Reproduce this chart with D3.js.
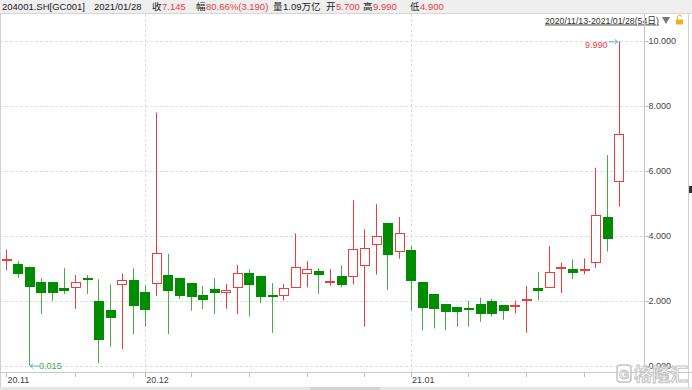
<!DOCTYPE html>
<html>
<head>
<meta charset="utf-8">
<script src="https://cdn.jsdelivr.net/npm/d3@7/dist/d3.min.js"></script>
<style>
  body { margin: 0; background: #fff; }
  svg { display: block; font-family: "Liberation Sans", "Noto Sans CJK SC", sans-serif; }
</style>
</head>
<body>
<svg width="692" height="390"></svg>
<script>
const dates = [
  "2020-11-13", "2020-11-16", "2020-11-17", "2020-11-18", "2020-11-19", "2020-11-20",
  "2020-11-23", "2020-11-24", "2020-11-25", "2020-11-26", "2020-11-27",
  "2020-11-30", "2020-12-01", "2020-12-02", "2020-12-03", "2020-12-04",
  "2020-12-07", "2020-12-08", "2020-12-09", "2020-12-10", "2020-12-11",
  "2020-12-14", "2020-12-15", "2020-12-16", "2020-12-17", "2020-12-18",
  "2020-12-21", "2020-12-22", "2020-12-23", "2020-12-24", "2020-12-25",
  "2020-12-28", "2020-12-29", "2020-12-30", "2020-12-31",
  "2021-01-04", "2021-01-05", "2021-01-06", "2021-01-07", "2021-01-08",
  "2021-01-11", "2021-01-12", "2021-01-13", "2021-01-14", "2021-01-15",
  "2021-01-18", "2021-01-19", "2021-01-20", "2021-01-21", "2021-01-22",
  "2021-01-25", "2021-01-26", "2021-01-27", "2021-01-28"
];
const open = [
  3.28, 3.14, 3.06, 2.59, 2.59, 2.40, 2.44, 2.70, 2.01, 1.71, 2.52,
  2.65, 2.27, 2.58, 2.80, 2.70, 2.54, 2.18, 2.38, 2.29, 2.42,
  2.86, 2.76, 2.17, 2.17, 2.45, 2.85, 2.93, 2.61, 2.78, 2.77,
  3.11, 3.74, 4.41, 3.53, 3.57, 2.59, 2.21, 1.91, 1.82,
  1.79, 1.91, 2.01, 1.88, 1.87, 2.04, 2.41, 2.44, 3.03, 2.98,
  2.97, 3.18, 4.59, 5.70
];
const close = [
  3.30, 2.87, 2.47, 2.29, 2.27, 2.33, 2.59, 2.69, 0.85, 1.50, 2.65,
  1.88, 1.76, 3.49, 2.34, 2.18, 2.13, 2.06, 2.29, 2.34, 2.86,
  2.52, 2.13, 2.15, 2.40, 3.06, 2.98, 2.84, 2.62, 2.52, 3.59,
  3.64, 3.99, 3.45, 4.08, 2.64, 1.83, 1.78, 1.70, 1.70,
  1.77, 1.62, 1.64, 1.74, 1.88, 2.06, 2.34, 2.90, 3.04, 2.90,
  2.98, 4.64, 3.955, 7.145
];
const high = [
  3.58, 3.24, 3.06, 2.70, 2.59, 3.01, 2.80, 2.80, 2.67, 2.51, 2.85,
  3.01, 2.49, 7.80, 3.45, 2.70, 2.54, 2.46, 2.70, 2.52, 3.11,
  2.98, 2.76, 2.55, 2.52, 4.08, 3.23, 3.01, 2.98, 3.10, 5.11,
  4.21, 4.98, 4.41, 4.59, 3.69, 2.59, 2.21, 1.91, 1.82,
  2.01, 2.10, 2.07, 1.88, 2.01, 2.46, 2.90, 3.69, 3.18, 3.28,
  3.31, 6.10, 6.49, 9.99
];
const low = [
  2.95, 2.71, 0.015, 1.60, 2.01, 2.21, 1.76, 2.21, 0.08, 0.59, 0.52,
  0.98, 1.21, 2.16, 0.98, 2.06, 1.70, 1.75, 1.60, 1.76, 1.60,
  1.52, 1.93, 1.02, 2.02, 2.45, 2.42, 2.22, 2.47, 2.42, 2.51,
  1.21, 2.81, 2.34, 3.30, 1.70, 1.10, 1.16, 1.10, 1.21,
  1.21, 1.36, 1.52, 1.42, 1.62, 1.02, 2.03, 2.44, 2.24, 2.67,
  2.82, 3.02, 3.52, 4.90
];
const yTicks = [0, 2, 4, 6, 8, 10];
const tickDates = ["2020-11-13", "2020-11-23", "2020-11-30", "2020-12-01", "2020-12-07",
  "2020-12-14", "2020-12-21", "2020-12-28", "2021-01-04", "2021-01-11", "2021-01-18", "2021-01-25"];
const monthLabels = [["2020-11-13", "20.11"], ["2020-12-01", "20.12"], ["2021-01-04", "21.01"]];

const red = "#ee3d3d";
const green = "#008c00";
const greenWick = "#44ad44";
const svg = d3.select("svg");

const x = d3.scalePoint().domain(dates).range([6, 618.6]);
const y = d3.scaleLinear().domain([0, 10]).range([366, 41]);
const bw = x.step() * 0.75;

// header
svg.append("rect").attr("x", 0).attr("y", 0).attr("width", 692).attr("height", 13)
  .style("fill", "#efefef");
svg.append("line").attr("x1", 0).attr("x2", 692).attr("y1", 13.5).attr("y2", 13.5)
  .style("stroke", "#d6d6d6");

const head = [
  [2, "204001.SH[GC001]", "#222"], [94, "2021/01/28", "#222"],
  [152, "收", "#222"], [162, "7.145", red],
  [196, "幅", "#222"], [206, "80.66%(3.190)", red],
  [273, "量", "#222"], [283, "1.09万亿", "#222"],
  [326, "开", "#222"], [336, "5.700", red],
  [363, "高", "#222"], [373, "9.990", red],
  [410, "低", "#222"], [420, "4.900", red]
];
head.forEach(h => {
  svg.append("text").attr("x", h[0]).attr("y", 10).text(h[1])
    .style("font-size", "9.5px").style("fill", h[2]);
});

svg.append("text").attr("x", 545).attr("y", 23.5).text("2020/11/13-2021/01/28(54日)")
  .attr("textLength", 114).attr("lengthAdjust", "spacingAndGlyphs")
  .style("font-size", "9px").style("fill", "#333").style("text-decoration", "underline");
svg.append("path").attr("d", "M662,17 L670,17 L666,24 Z").style("fill", "#777");
svg.append("rect").attr("x", 676).attr("y", 19.5).attr("width", 7).attr("height", 5).style("fill", "#f2b01e");
svg.append("path").attr("d", "M677.5,19.5 v-2.5 a2,2 0 0 1 4,0").style("fill", "none").style("stroke", "#f2b01e");

// frame
svg.append("line").attr("x1", 0.5).attr("x2", 0.5).attr("y1", 14).attr("y2", 387).style("stroke", "#d0d0d0");
svg.append("line").attr("x1", 688.5).attr("x2", 688.5).attr("y1", 14).attr("y2", 387).style("stroke", "#d0d0d0");
svg.append("rect").attr("x", 689).attr("y", 186).attr("width", 3).attr("height", 7).style("fill", "#333");

// grid
svg.append("g").selectAll("line").data(yTicks).join("line")
  .attr("x1", 0).attr("x2", 644).attr("y1", d => Math.round(y(d)) + 0.5).attr("y2", d => Math.round(y(d)) + 0.5)
  .style("stroke", "#dcdcdc").style("stroke-dasharray", "3,2");
svg.append("g").selectAll("line").data(monthLabels.slice(1)).join("line")
  .attr("x1", d => Math.round(x(d[0])) + 0.5).attr("x2", d => Math.round(x(d[0])) + 0.5)
  .attr("y1", 14).attr("y2", 372)
  .style("stroke", "#dcdcdc").style("stroke-dasharray", "3,2");

// axes
const yAxis = svg.append("g").attr("transform", "translate(644.5,0)")
  .call(d3.axisRight(y).tickValues(yTicks).tickSize(4).tickPadding(0).tickFormat(d3.format(".3f")));
yAxis.select(".domain").attr("d", "M0,14V372").style("stroke", "#c8c8c8");
yAxis.selectAll(".tick line").style("stroke", "#bbb");
yAxis.selectAll("text").style("font-size", "9px").style("fill", "#444")
  .style("font-family", "Liberation Sans, sans-serif");

svg.append("line").attr("x1", 0).attr("x2", 692).attr("y1", 372.5).attr("y2", 372.5).style("stroke", "#c8c8c8");
svg.append("g").selectAll("line").data(tickDates).join("line")
  .attr("x1", d => Math.round(x(d)) + 0.5).attr("x2", d => Math.round(x(d)) + 0.5)
  .attr("y1", 373).attr("y2", 377).style("stroke", "#bbb");
svg.append("g").selectAll("text").data(monthLabels).join("text")
  .attr("x", d => x(d[0]) + 1.5).attr("y", 383).text(d => d[1])
  .style("font-size", "9px").style("fill", "#444");

// scrollbar
svg.append("rect").attr("x", 0).attr("y", 387).attr("width", 692).attr("height", 3).style("fill", "#e6e6e6");
svg.append("rect").attr("x", 310).attr("y", 387).attr("width", 70).attr("height", 3).style("fill", "#d2d2d2");

// candles
const idx = d3.range(dates.length);
const g = svg.append("g");
g.selectAll("line.wick").data(idx).join("line").attr("class", "wick")
  .attr("x1", i => Math.round(x(dates[i])) + 0.5).attr("x2", i => Math.round(x(dates[i])) + 0.5)
  .attr("y1", i => y(high[i])).attr("y2", i => y(low[i]))
  .style("stroke", i => close[i] >= open[i] ? red : greenWick);
g.selectAll("rect.body").data(idx).join("rect").attr("class", "body")
  .attr("x", i => Math.round(x(dates[i]) - bw / 2) + 0.5)
  .attr("width", Math.round(bw))
  .attr("y", i => Math.round(y(Math.max(open[i], close[i]))) + 0.5)
  .attr("height", i => Math.max(1, Math.round(Math.abs(y(open[i]) - y(close[i])))))
  .style("fill", i => close[i] >= open[i] ? "#fff" : green)
  .style("stroke", i => close[i] >= open[i] ? red : green);

// extremes
const hiI = d3.maxIndex(high), loI = d3.minIndex(low);
svg.append("line").attr("x1", x(dates[hiI]) - 10).attr("x2", x(dates[hiI]) - 1)
  .attr("y1", y(high[hiI]) + 0.5).attr("y2", y(high[hiI]) + 0.5).style("stroke", "#5fb0d8");
svg.append("path").attr("d", `M${x(dates[hiI]) - 4},${y(high[hiI]) - 2} L${x(dates[hiI]) - 1},${y(high[hiI]) + 0.5} L${x(dates[hiI]) - 4},${y(high[hiI]) + 3}`)
  .style("fill", "none").style("stroke", "#5fb0d8");
svg.append("text").attr("x", x(dates[hiI]) - 11).attr("y", y(high[hiI]) + 7)
  .attr("text-anchor", "end").text(d3.format(".3f")(high[hiI]))
  .style("font-size", "9px").style("fill", red);

svg.append("line").attr("x1", x(dates[loI]) + 1).attr("x2", x(dates[loI]) + 10)
  .attr("y1", y(low[loI]) + 0.5).attr("y2", y(low[loI]) + 0.5).style("stroke", "#5fb0d8");
svg.append("path").attr("d", `M${x(dates[loI]) + 4},${y(low[loI]) - 2} L${x(dates[loI]) + 1},${y(low[loI]) + 0.5} L${x(dates[loI]) + 4},${y(low[loI]) + 3}`)
  .style("fill", "none").style("stroke", "#5fb0d8");
svg.append("text").attr("x", x(dates[loI]) + 10).attr("y", y(low[loI]) + 3)
  .text(d3.format(".3f")(low[loI]))
  .style("font-size", "9px").style("fill", "#4aa84a");

// watermark
svg.append("rect").attr("x", 617).attr("y", 365).attr("width", 14).attr("height", 17).attr("rx", 3)
  .style("fill", "rgba(255,255,255,0.6)").style("stroke", "#c4c4c4").style("stroke-width", 1.5);
svg.append("text").attr("x", 619).attr("y", 379).text("G")
  .style("font-size", "13px").style("font-weight", "bold").style("fill", "#fff").style("stroke", "#c4c4c4");
svg.append("text").attr("x", 634).attr("y", 381).text("格隆汇")
  .style("font-family", "Noto Sans CJK SC").style("font-size", "18px").style("font-weight", "bold")
  .style("fill", "rgba(255,255,255,0.7)").style("stroke", "#c4c4c4").style("stroke-width", 1);
</script>
</body>
</html>
